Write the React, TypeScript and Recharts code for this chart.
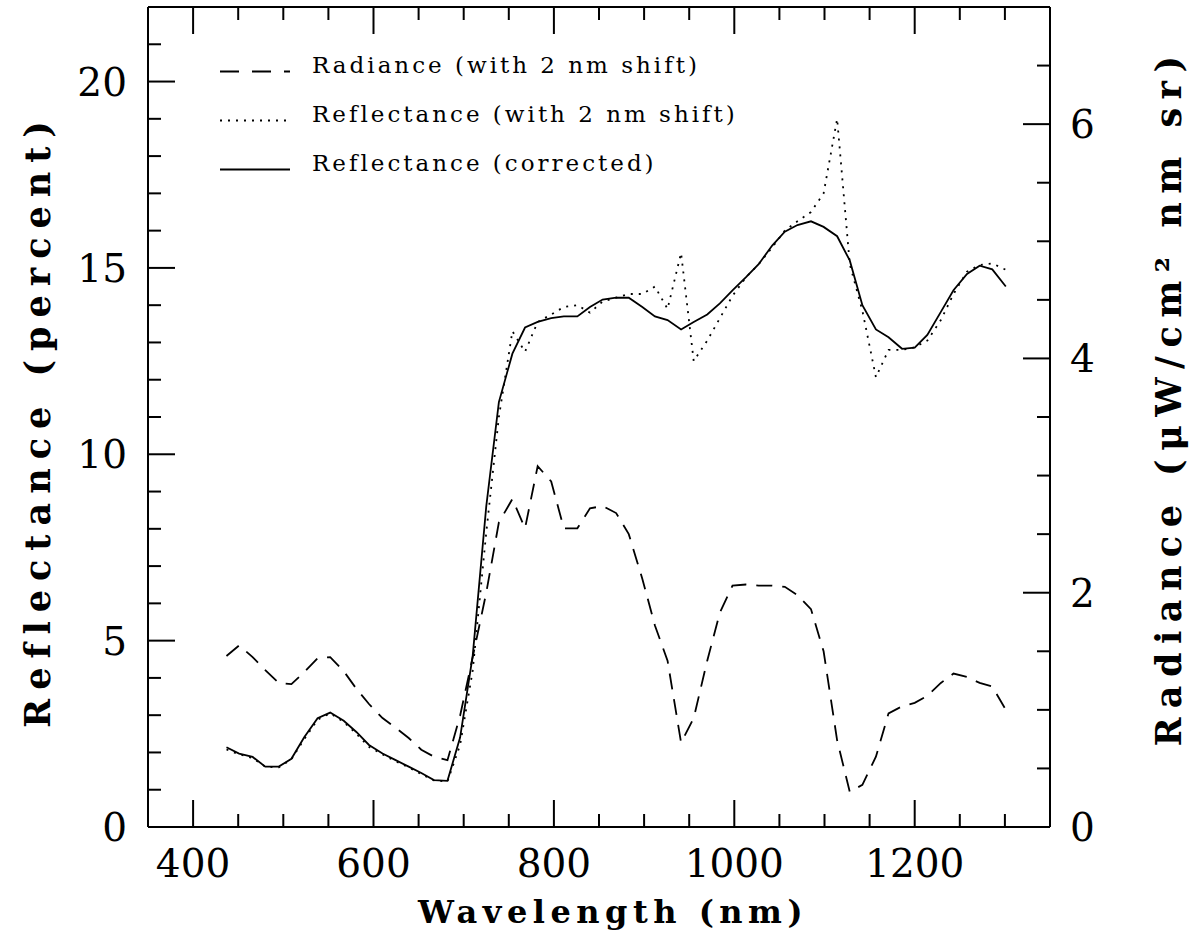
import React from 'react';
import { LineChart, Line, XAxis, YAxis, Customized } from 'recharts';

const wavelengths = [
  437, 451, 466, 480, 495, 509, 523, 538, 552, 567,
  581, 595, 610, 624, 639, 653, 667, 682, 696, 710,
  725, 739, 754, 768, 782, 797, 811, 826, 840, 854,
  869, 883, 898, 912, 926, 941, 955, 970, 984, 998,
  1013, 1027, 1042, 1056, 1070, 1085, 1099, 1114, 1128, 1142,
  1157, 1171, 1186, 1200, 1214, 1229, 1243, 1258, 1272, 1286,
  1301,
];

const radiance = [
  1.46, 1.55, 1.45, 1.34, 1.23, 1.22, 1.32, 1.44, 1.45, 1.33,
  1.18, 1.05, 0.93, 0.85, 0.76, 0.66, 0.6, 0.57, 0.95, 1.45,
  2.0, 2.6, 2.8, 2.55, 3.08, 2.95, 2.55, 2.55, 2.72, 2.74,
  2.68, 2.5, 2.12, 1.72, 1.42, 0.72, 0.93, 1.42, 1.83, 2.06,
  2.07, 2.06, 2.06, 2.05, 1.98, 1.86, 1.5, 0.74, 0.3, 0.36,
  0.6, 0.97, 1.03, 1.06, 1.12, 1.23, 1.31, 1.28, 1.23, 1.2,
  1.0,
];

const reflShift = [
  2.08, 1.95, 1.85, 1.62, 1.6, 1.82, 2.35, 2.88, 3.05, 2.82,
  2.5, 2.15, 1.95, 1.77, 1.6, 1.42, 1.25, 1.22, 2.2, 4.2,
  7.9, 11.0, 13.3, 12.75, 13.55, 13.75, 13.95, 14.0, 13.8, 14.1,
  14.2, 14.3, 14.3, 14.5, 13.9, 15.4, 12.5, 13.05, 13.65, 14.25,
  14.75, 15.1, 15.55, 16.0, 16.25, 16.5, 17.0, 19.0, 15.1, 13.85,
  12.07, 12.8, 12.8, 12.87, 13.05, 13.6, 14.3, 14.9, 15.08, 15.12,
  14.95,
];

const reflCorr = [
  2.14, 1.97, 1.88, 1.62, 1.62, 1.83, 2.4, 2.92, 3.07, 2.85,
  2.55, 2.2, 1.97, 1.8, 1.62, 1.45, 1.26, 1.24, 2.4, 4.6,
  8.6, 11.4, 12.7, 13.4, 13.55, 13.65, 13.7, 13.7, 13.95, 14.15,
  14.2, 14.2, 13.95, 13.7, 13.6, 13.35, 13.55, 13.75, 14.05, 14.4,
  14.75, 15.1, 15.6, 15.97, 16.15, 16.25, 16.1, 15.85, 15.2, 14.0,
  13.35, 13.14, 12.83, 12.86, 13.2, 13.82, 14.4, 14.84, 15.06, 14.96,
  14.5,
];

const xTicks = [
  350, 400, 450, 500, 550, 600, 650, 700, 750, 800, 850, 900, 950, 1000,
  1050, 1100, 1150, 1200, 1250, 1300, 1350,
];
const xLabels = [400, 600, 800, 1000, 1200];
const leftTicks = [0, 1, 2, 3, 4, 5, 6, 7, 8, 9, 10, 11, 12, 13, 14, 15, 16, 17, 18, 19, 20, 21, 22];
const leftLabels = [0, 5, 10, 15, 20];
const rightTicks = [0, 0.5, 1, 1.5, 2, 2.5, 3, 3.5, 4, 4.5, 5, 5.5, 6, 6.5, 7];
const rightLabels = [0, 2, 4, 6];

const legendItems = [
  { label: 'Radiance (with 2 nm shift)', dash: '19 13' },
  { label: 'Reflectance (with 2 nm shift)', dash: '2 6' },
  { label: 'Reflectance (corrected)', dash: undefined as string | undefined },
];

const data = wavelengths.map((w, i) => ({
  w,
  rad: radiance[i],
  rs: reflShift[i],
  rc: reflCorr[i],
}));

const FONT = 'DejaVu Serif';
const MAJOR = 27;
const MINOR = 13;

const BottomTick = (props: any) => {
  const { x, y, payload } = props;
  const v = payload.value;
  const major = xLabels.includes(v);
  return (
    <g>
      <line x1={x} x2={x} y1={y} y2={y - (major ? MAJOR : MINOR)} stroke="#000" strokeWidth={2} />
      {major && (
        <text x={x} y={y + 50} textAnchor="middle" fontFamily={FONT} fontSize={39} fill="#000">
          {v}
        </text>
      )}
    </g>
  );
};

const TopTick = (props: any) => {
  const { x, y, payload } = props;
  const major = xLabels.includes(payload.value);
  return <line x1={x} x2={x} y1={y} y2={y + (major ? MAJOR : MINOR)} stroke="#000" strokeWidth={2} />;
};

const LeftTick = (props: any) => {
  const { x, y, payload } = props;
  const v = payload.value;
  const major = leftLabels.includes(v);
  return (
    <g>
      <line x1={x} x2={x + (major ? MAJOR : MINOR)} y1={y} y2={y} stroke="#000" strokeWidth={2} />
      {major && (
        <text x={x - 21} y={y + 14} textAnchor="end" fontFamily={FONT} fontSize={39} fill="#000">
          {v}
        </text>
      )}
    </g>
  );
};

const RightTick = (props: any) => {
  const { x, y, payload } = props;
  const v = payload.value;
  const major = rightLabels.includes(v);
  return (
    <g>
      <line x1={x} x2={x - (major ? MAJOR : MINOR)} y1={y} y2={y} stroke="#000" strokeWidth={2} />
      {major && (
        <text x={x + 20} y={y + 14} textAnchor="start" fontFamily={FONT} fontSize={39} fill="#000">
          {v}
        </text>
      )}
    </g>
  );
};

const Decorations = () => (
  <g>
    <text x={613} y={923} textAnchor="middle" fontFamily={FONT} fontWeight="bold" fontSize={32} letterSpacing={5.5} fill="#000">
      Wavelength (nm)
    </text>
    <text
      transform="translate(50,420) rotate(-90)"
      textAnchor="middle"
      fontFamily={FONT}
      fontWeight="bold"
      fontSize={35}
      letterSpacing={9}
      fill="#000"
    >
      Reflectance (percent)
    </text>
    <text
      transform="translate(1181,397) rotate(-90)"
      textAnchor="middle"
      fontFamily={FONT}
      fontWeight="bold"
      fontSize={35}
      letterSpacing={8.5}
      fill="#000"
    >
      Radiance (μW/cm² nm sr)
    </text>
    {legendItems.map((it, i) => {
      const y = 73 + i * 49;
      return (
        <g key={it.label}>
          <line x1={220} x2={290} y1={y - 1.5} y2={y - 1.5} stroke="#000" strokeWidth={1.8} strokeDasharray={it.dash} />
          <text x={312} y={y} fontFamily={FONT} fontSize={23} letterSpacing={3} fill="#000">
            {it.label}
          </text>
        </g>
      );
    })}
  </g>
);

export default function App() {
  return (
    <div style={{ position: 'absolute', left: 0, top: 0, background: '#fff' }}>
      <LineChart width={1193} height={952} data={data} margin={{ top: 6, right: 0, bottom: 0, left: 0 }}>
        <XAxis
          dataKey="w"
          type="number"
          domain={[350, 1350]}
          allowDataOverflow
          ticks={xTicks}
          interval={0}
          tickSize={0}
          tickMargin={0}
          tickLine={false}
          axisLine={{ stroke: '#000', strokeWidth: 2 }}
          height={125}
          tick={BottomTick}
        />
        <XAxis
          xAxisId="top"
          orientation="top"
          dataKey="w"
          type="number"
          domain={[350, 1350]}
          allowDataOverflow
          ticks={xTicks}
          interval={0}
          tickSize={0}
          tickMargin={0}
          tickLine={false}
          axisLine={{ stroke: '#000', strokeWidth: 2 }}
          height={1}
          tick={TopTick}
        />
        <YAxis
          yAxisId="left"
          type="number"
          domain={[0, 22]}
          allowDataOverflow
          ticks={leftTicks}
          interval={0}
          tickSize={0}
          tickMargin={0}
          tickLine={false}
          axisLine={{ stroke: '#000', strokeWidth: 2 }}
          width={148}
          tick={LeftTick}
        />
        <YAxis
          yAxisId="right"
          orientation="right"
          type="number"
          domain={[0, 7]}
          allowDataOverflow
          ticks={rightTicks}
          interval={0}
          tickSize={0}
          tickMargin={0}
          tickLine={false}
          axisLine={{ stroke: '#000', strokeWidth: 2 }}
          width={143}
          tick={RightTick}
        />
        <Line yAxisId="right" type="linear" dataKey="rad" stroke="#000" strokeWidth={1.8} strokeDasharray="16 10" dot={false} isAnimationActive={false} />
        <Line yAxisId="left" type="linear" dataKey="rs" stroke="#000" strokeWidth={1.8} strokeDasharray="2 6" dot={false} isAnimationActive={false} />
        <Line yAxisId="left" type="linear" dataKey="rc" stroke="#000" strokeWidth={1.8} dot={false} isAnimationActive={false} />
        <Customized component={Decorations} />
      </LineChart>
    </div>
  );
}
